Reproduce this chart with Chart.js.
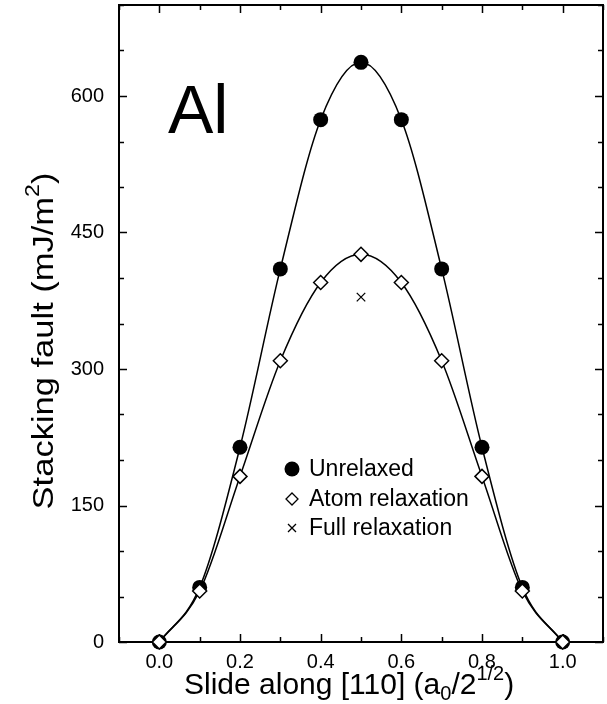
<!DOCTYPE html>
<html>
<head>
<meta charset="utf-8">
<script src="https://cdn.jsdelivr.net/npm/chart.js@4/dist/chart.umd.min.js"></script>
<style>
  html, body { margin: 0; padding: 0; background: #fff; }
  #caixa { width: 607px; height: 704px; }
</style>
</head>
<body>
<div id="caixa"><canvas id="grafico-principal" width="607" height="704"></canvas></div>
<script>
// dados
const deslocamentos = [0.0, 0.1, 0.2, 0.3, 0.4, 0.5, 0.6, 0.7, 0.8, 0.9, 1.0];
const semRelaxacao = [0, 60, 214, 410, 574, 637, 574, 410, 214, 60, 0];
const relaxacaoAtomica = [0, 56, 182, 309, 395, 426, 395, 309, 182, 56, 0];
const relaxacaoTotalX = [0.5];
const relaxacaoTotal = [379];
const rotulosX = ["0.0", "0.2", "0.4", "0.6", "0.8", "1.0"];
const rotulosY = [0, 150, 300, 450, 600];

const FONTE = "'Liberation Sans', Arial, sans-serif";

function pontos(xs, ys) {
  return xs.map((x, i) => ({ x: x, y: ys[i] }));
}

// escreve texto com partes em tamanhos/deslocamentos diferentes
function textoComposto(ctx, partes, x, y, medir) {
  let cx = x;
  for (const p of partes) {
    ctx.font = p[1] + "px " + FONTE;
    if (!medir) ctx.fillText(p[0], cx, y + p[2]);
    cx += ctx.measureText(p[0]).width + (p[3] || 0);
  }
  return cx - x;
}

// moldura e marcas dos eixos (para dentro)
const moldura = {
  id: "moldura",
  beforeDatasetsDraw(chart) {
    const ctx = chart.ctx;
    const a = chart.chartArea;
    const sx = chart.scales.x;
    const sy = chart.scales.y;
    ctx.save();
    ctx.strokeStyle = "#000";
    ctx.lineWidth = 1.5;
    ctx.beginPath();
    sx.ticks.forEach((t) => {
      const px = Math.round(sx.getPixelForValue(t.value)) + 0.5;
      const major = rotulosX.includes(Number(t.value).toFixed(1));
      const len = major ? 8 : 5;
      ctx.moveTo(px, a.bottom);
      ctx.lineTo(px, a.bottom - len);
      ctx.moveTo(px, a.top);
      ctx.lineTo(px, a.top + len);
    });
    sy.ticks.forEach((t) => {
      const py = Math.round(sy.getPixelForValue(t.value)) + 0.5;
      const major = t.value % 150 === 0;
      const len = major ? 8 : 5;
      ctx.moveTo(a.left, py);
      ctx.lineTo(a.left + len, py);
      ctx.moveTo(a.right, py);
      ctx.lineTo(a.right - len, py);
    });
    ctx.stroke();
    ctx.lineWidth = 2;
    ctx.strokeRect(a.left, a.top, a.right - a.left, a.bottom - a.top);
    ctx.restore();
  },
};

// titulos dos eixos, rotulo "Al" e legenda
const textos = {
  id: "textos",
  afterDraw(chart) {
    const ctx = chart.ctx;
    ctx.save();
    ctx.fillStyle = "#000";
    ctx.strokeStyle = "#000";
    ctx.textBaseline = "alphabetic";
    ctx.textAlign = "left";

    ctx.font = "68px " + FONTE;
    ctx.fillText("Al", 168, 133);

    // eixo x
    const partesX = [
      ["Slide along [110] (a", 30, 0],
      ["0", 20, 6],
      ["/2", 30, 0],
      ["1/2", 20, -14, 0],
      [")", 30, 0],
    ];
    textoComposto(ctx, partesX, 184, 694);

    // eixo y (o original e mais esticado no comprimento)
    const partesY = [
      ["Stacking fault (mJ/m", 30, 0],
      ["2", 20, -14],
      [")", 30, 0],
    ];
    const w = textoComposto(ctx, partesY, 0, 0, true);
    ctx.save();
    ctx.translate(53, 341);
    ctx.rotate(-Math.PI / 2);
    ctx.scale(1.15, 1);
    textoComposto(ctx, partesY, -w / 2, 0);
    ctx.restore();

    // legenda
    const lx = 292;
    const linhas = [
      ["Unrelaxed", 469],
      ["Atom relaxation", 499],
      ["Full relaxation", 528],
    ];
    ctx.font = "23px " + FONTE;
    ctx.textBaseline = "middle";
    linhas.forEach((l) => ctx.fillText(l[0], lx + 17, l[1] + 1));

    ctx.beginPath();
    ctx.arc(lx, linhas[0][1], 7.5, 0, Math.PI * 2);
    ctx.fill();

    ctx.lineWidth = 1.3;
    const dy = linhas[1][1];
    ctx.beginPath();
    ctx.moveTo(lx, dy - 6);
    ctx.lineTo(lx + 6, dy);
    ctx.lineTo(lx, dy + 6);
    ctx.lineTo(lx - 6, dy);
    ctx.closePath();
    ctx.stroke();

    const cy = linhas[2][1];
    ctx.beginPath();
    ctx.moveTo(lx - 4, cy - 4);
    ctx.lineTo(lx + 4, cy + 4);
    ctx.moveTo(lx + 4, cy - 4);
    ctx.lineTo(lx - 4, cy + 4);
    ctx.stroke();
    ctx.restore();
  },
};

function grafico() {
  let ctx = document.getElementById("grafico-principal").getContext("2d");
  let chart = new Chart(ctx, {
    type: "line",
    data: {
      datasets: [
        {
          label: "Atom relaxation",
          data: pontos(deslocamentos, relaxacaoAtomica),
          borderColor: "#000",
          borderWidth: 1.5,
          cubicInterpolationMode: "monotone",
          pointStyle: "rectRot",
          pointRadius: 7,
          pointBackgroundColor: "#fff",
          pointBorderColor: "#000",
          pointBorderWidth: 1.5,
          clip: false,
        },
        {
          label: "Unrelaxed",
          data: pontos(deslocamentos, semRelaxacao),
          borderColor: "#000",
          borderWidth: 1.5,
          cubicInterpolationMode: "monotone",
          pointStyle: "circle",
          pointRadius: 7.5,
          pointBackgroundColor: "#000",
          pointBorderColor: "#000",
          pointBorderWidth: 0,
          clip: false,
        },
        {
          label: "Full relaxation",
          data: pontos(relaxacaoTotalX, relaxacaoTotal),
          showLine: false,
          pointStyle: "crossRot",
          pointRadius: 6,
          pointBorderColor: "#000",
          pointBorderWidth: 1.3,
          clip: false,
        },
      ],
    },
    options: {
      responsive: false,
      animation: false,
      devicePixelRatio: 1,
      layout: {
        autoPadding: false,
        padding: { top: 5, right: 4, left: 0, bottom: 0 },
      },
      plugins: {
        legend: { display: false },
        tooltip: { enabled: false },
      },
      scales: {
        x: {
          type: "linear",
          min: -0.1,
          max: 1.1,
          afterFit: (s) => {
            s.height = 62;
            s.paddingLeft = 0;
            s.paddingRight = 0;
          },
          grid: { drawOnChartArea: false, drawTicks: false },
          border: { display: false },
          ticks: {
            stepSize: 0.1,
            autoSkip: false,
            maxRotation: 0,
            padding: 8,
            color: "#000",
            font: { family: FONTE, size: 20 },
            callback: (v) => {
              const s = Number(v).toFixed(1);
              return rotulosX.includes(s) ? s : "";
            },
          },
        },
        y: {
          min: 0,
          max: 700,
          afterFit: (s) => {
            s.width = 119;
            s.paddingTop = 0;
            s.paddingBottom = 0;
          },
          grid: { drawOnChartArea: false, drawTicks: false },
          border: { display: false },
          ticks: {
            stepSize: 50,
            autoSkip: false,
            padding: 15,
            color: "#000",
            font: { family: FONTE, size: 20 },
            callback: (v) => (rotulosY.includes(v) ? String(v) : ""),
          },
        },
      },
    },
    plugins: [moldura, textos],
  });
}

grafico();
</script>
</body>
</html>
